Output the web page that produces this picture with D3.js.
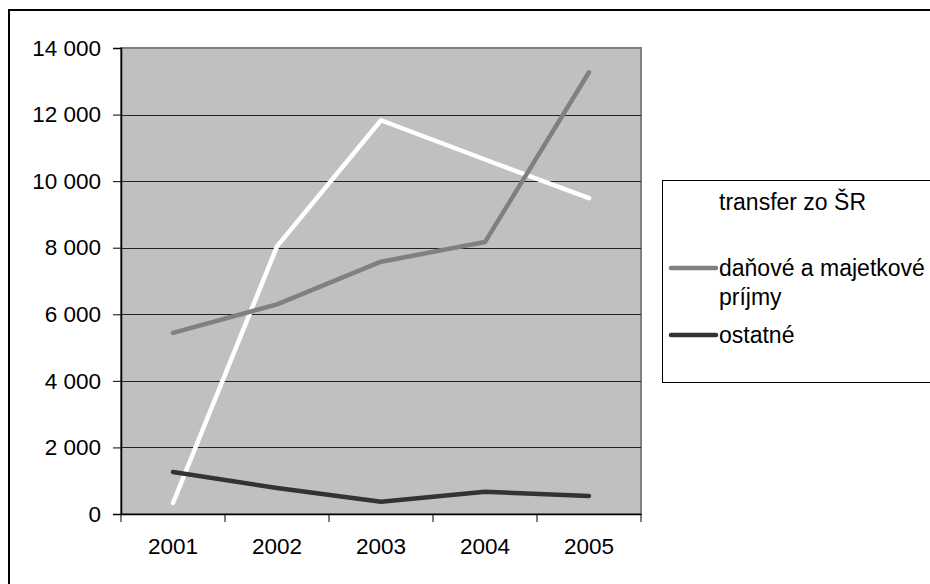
<!DOCTYPE html>
<html>
<head>
<meta charset="utf-8">
<script src="https://cdn.jsdelivr.net/npm/d3@7"></script>
<style>
  body { margin: 0; background: #fff; }
  svg { display: block; }
</style>
</head>
<body>
<div id="chart"></div>
<script>
// data
let years = ["2001", "2002", "2003", "2004", "2005"];
let series_names = ["transfer zo ŠR", "daňové a majetkové príjmy", "ostatné"];
let transfer_vals = [330, 8040, 11830, 10650, 9490];
let danove_vals = [5440, 6300, 7580, 8170, 13270];
let ostatne_vals = [1260, 780, 370, 670, 540];
let y_ticks = [0, 2000, 4000, 6000, 8000, 10000, 12000, 14000];

let width = 930, height = 584;
let plot = { x0: 121, y0: 48, x1: 641, y1: 514 };
let font = "'Liberation Sans', Arial, sans-serif";

let svg = d3.select("#chart").append("svg")
  .attr("width", width)
  .attr("height", height);

// outer frame (runs off right and bottom)
svg.append("rect")
  .attr("x", 9).attr("y", 10)
  .attr("width", 940).attr("height", 600)
  .attr("fill", "#fff")
  .attr("stroke", "#000")
  .attr("stroke-width", 2);

let x = d3.scaleBand().domain(years).range([plot.x0, plot.x1]).padding(0);
let y = d3.scaleLinear().domain([0, 14000]).range([plot.y1, plot.y0]);

// plot background
svg.append("rect")
  .attr("x", plot.x0).attr("y", plot.y0)
  .attr("width", plot.x1 - plot.x0).attr("height", plot.y1 - plot.y0)
  .attr("fill", "#c0c0c0")
  .attr("stroke", "#808080")
  .attr("stroke-width", 2);

// gridlines
svg.append("g")
  .selectAll("line")
  .data(y_ticks.filter(d => d > 0 && d < 14000))
  .join("line")
    .attr("x1", plot.x0).attr("x2", plot.x1)
    .attr("y1", d => Math.round(y(d)) + 0.5)
    .attr("y2", d => Math.round(y(d)) + 0.5)
    .attr("stroke", "#222")
    .attr("stroke-width", 1);

// y axis
let fmt = d => d3.format(",")(d).replace(/,/g, " ");
let y_axis = svg.append("g")
  .attr("transform", "translate(" + plot.x0 + ",0)")
  .call(d3.axisLeft(y).tickValues(y_ticks).tickFormat(fmt).tickSize(8).tickPadding(12));
y_axis.select(".domain").attr("stroke", "#000").attr("stroke-width", 1.5);
y_axis.selectAll(".tick line").attr("stroke", "#000");
y_axis.selectAll("text")
  .attr("font-family", font)
  .attr("font-size", "22.5px")
  .attr("fill", "#000");

// x axis, ticks on category boundaries
let x_axis = svg.append("g")
  .attr("transform", "translate(0," + plot.y1 + ")")
  .call(d3.axisBottom(x).tickSize(0).tickPadding(24));
x_axis.select(".domain").attr("stroke", "#000").attr("stroke-width", 1.5);
x_axis.selectAll("text")
  .attr("font-family", font)
  .attr("font-size", "22.5px")
  .attr("fill", "#000");
let bounds = years.map(d => x(d)).concat([x(years[years.length - 1]) + x.bandwidth()]);
x_axis.selectAll(".bound")
  .data(bounds)
  .join("line")
    .attr("class", "bound")
    .attr("x1", d => d).attr("x2", d => d)
    .attr("y1", 0).attr("y2", 8)
    .attr("stroke", "#000");

// lines
let all_series = [
  { name: series_names[0], vals: transfer_vals, color: "#ffffff" },
  { name: series_names[1], vals: danove_vals, color: "#808080" },
  { name: series_names[2], vals: ostatne_vals, color: "#333333" }
];

let line = d3.line()
  .x((d, i) => x(years[i]) + x.bandwidth() / 2)
  .y(d => y(d));

svg.append("g")
  .selectAll("path")
  .data(all_series)
  .join("path")
    .attr("d", d => line(d.vals))
    .attr("fill", "none")
    .attr("stroke", d => d.color)
    .attr("stroke-width", 4.5)
    .attr("stroke-linejoin", "round")
    .attr("stroke-linecap", "round");

// legend
svg.append("rect")
  .attr("x", 662.5).attr("y", 180.5)
  .attr("width", 300).attr("height", 202)
  .attr("fill", "#fff")
  .attr("stroke", "#000")
  .attr("stroke-width", 1);

let legend_rows = [
  { s: all_series[0], y: 202, lines: ["transfer zo ŠR"] },
  { s: all_series[1], y: 268, lines: ["daňové a majetkové", "príjmy"] },
  { s: all_series[2], y: 335, lines: ["ostatné"] }
];

let lg = svg.append("g");
legend_rows.forEach(r => {
  lg.append("line")
    .attr("x1", 671).attr("x2", 716)
    .attr("y1", r.y).attr("y2", r.y)
    .attr("stroke", r.s.color)
    .attr("stroke-width", 4.5)
    .attr("stroke-linecap", "round");
  let t = lg.append("text")
    .attr("x", 719).attr("y", r.y)
    .attr("font-family", font)
    .attr("font-size", "23px")
    .attr("fill", "#000");
  r.lines.forEach((s, i) => {
    t.append("tspan")
      .attr("x", 719)
      .attr("dy", i === 0 ? "0.35em" : "1.27em")
      .text(s);
  });
});
</script>
</body>
</html>
